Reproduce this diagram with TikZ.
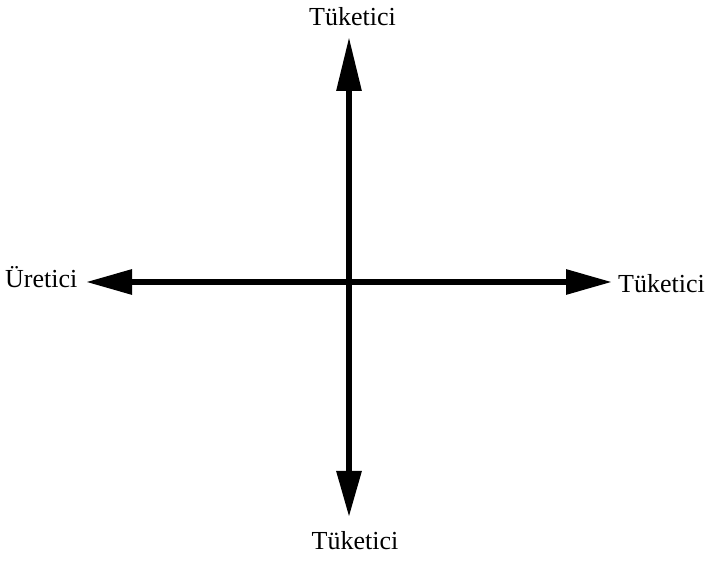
\documentclass[tikz,border=0pt]{standalone}
\usepackage{fontspec}
\setmainfont{Liberation Serif}
\usetikzlibrary{arrows.meta}
\begin{document}
\begin{tikzpicture}[x=1pt,y=1pt,
  axis/.style={line width=6pt,draw=black},
  lbl/.style={inner sep=0pt,font=\fontsize{26}{30}\selectfont}]
\useasboundingbox (0,0) rectangle (710,560);
\coordinate (c) at (349,278);
\coordinate (t) at (349,523);
\coordinate (b) at (349,43);
\coordinate (l) at (86,278);
\coordinate (r) at (612,278);
\draw[axis,-{Triangle[length=54pt,width=24pt]}] (c) -- (t);
\draw[axis,-{Triangle[length=46pt,width=24pt]}] (c) -- (b);
\draw[axis,-{Triangle[length=46pt,width=24pt]}] (c) -- (l);
\draw[axis,-{Triangle[length=46pt,width=24pt]}] (c) -- (r);
\node[lbl,anchor=base] (tl) at (352.5,534) {Tüketici};
\node[lbl,anchor=base] (bl) at (355,10) {Tüketici};
\node[lbl,anchor=base west] (ll) at (5,272) {Üretici};
\node[lbl,anchor=base west] (rl) at (618,267) {Tüketici};
\end{tikzpicture}
\end{document}
